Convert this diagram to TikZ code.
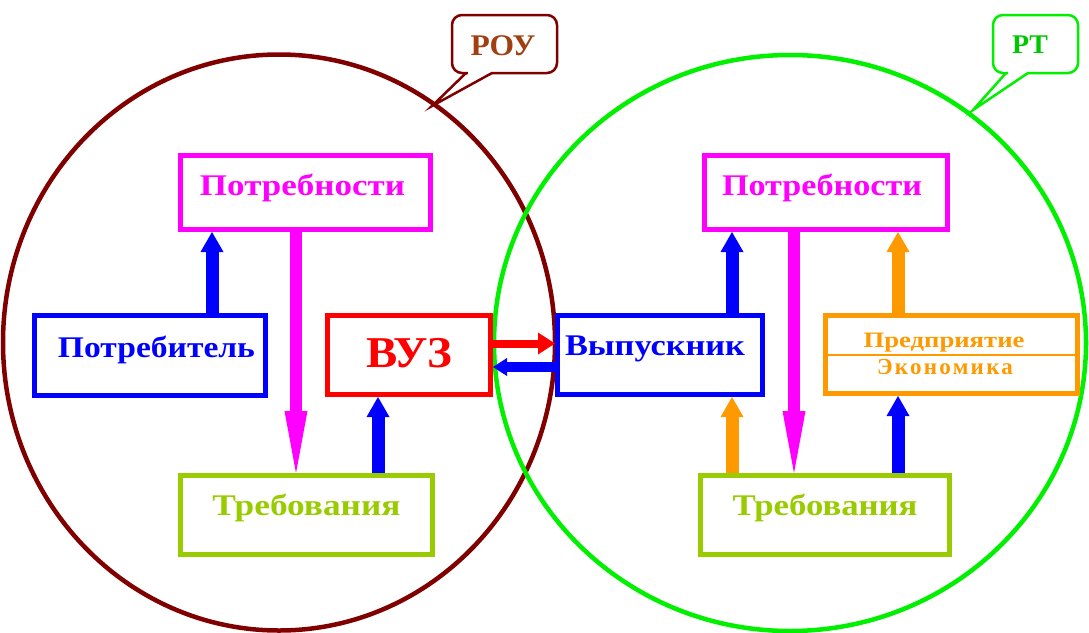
\documentclass[tikz,border=0pt]{standalone}
\usepackage{fontspec}
\setmainfont{Liberation Serif}
\usepackage{graphicx}
\usetikzlibrary{arrows.meta,calc}
\definecolor{maroonc}{RGB}{128,0,0}
\definecolor{limec}{RGB}{0,240,0}
\definecolor{magc}{RGB}{255,0,255}
\definecolor{bluec}{RGB}{0,0,255}
\definecolor{redc}{RGB}{255,0,0}
\definecolor{ygc}{RGB}{153,204,0}
\definecolor{orc}{RGB}{255,153,0}
\definecolor{routc}{RGB}{160,64,16}
\definecolor{rttc}{RGB}{0,200,0}
\newcommand{\fitt}[3]{\resizebox{#1}{\height}{\fontsize{#2}{#2}\selectfont\bfseries #3}}
\begin{document}
\begin{tikzpicture}[x=1pt,y=-1pt,
  box/.style={draw=#1, text=#1, line width=5pt, fill=white, inner sep=0pt},
  uparr/.style={#1, line width=13pt, -{Triangle[length=20pt,width=23pt,line width=0pt]}},
  downarr/.style={#1, line width=12pt, -{Triangle[length=62pt,width=23pt,line width=0pt]}},
  co/.style={draw=#1, line width=2.5pt},
]
\useasboundingbox[fill=white] (0,0) rectangle (1089,632);

% circles
\draw[maroonc, line width=4.5pt] (279,342.5) ellipse [x radius=276pt, y radius=288pt];
\draw[limec, line width=4.5pt] (790,343) ellipse [x radius=296pt, y radius=288pt];

% callouts
\draw[co=maroonc, fill=white, rounded corners=10pt] (452,15) rectangle (557,73);
\fill[white] (467.5,71) rectangle (490.5,75.5);
\draw[co=maroonc, line join=miter] (466,73) -- (432,106) -- (492,73);
\node[text=routc, anchor=base] (rou) at (503,55) {\fitt{65pt}{30}{РОУ}};

\draw[co=limec, fill=white, rounded corners=10pt] (993,15) rectangle (1078,73);
\fill[white] (1007.5,71) rectangle (1026.5,75.5);
\draw[co=limec, line join=miter] (1006,73) -- (973,110) -- (1028,73);
\node[text=rttc, anchor=base] (rt) at (1030,53) {\fitt{36pt}{27}{РТ}};

% left boxes
\node[box=magc, minimum width=250pt, minimum height=74pt, text height=25pt, text depth=20pt] (needL) at (305.5,192.5) {\fitt{205pt}{30}{Потребности}\kern6pt};
\node[box=bluec, minimum width=231pt, minimum height=80pt, text height=23pt, text depth=20pt] (cons) at (150,355.5) {\kern13pt\fitt{197pt}{30}{Потребитель}};
\node[box=redc, minimum width=163pt, minimum height=79pt, text height=44pt, text depth=20pt] (vuz) at (409,355) {\fitt{86pt}{44}{ВУЗ}};
\node[box=ygc, minimum width=252pt, minimum height=79pt, text height=20pt, text depth=20pt] (reqL) at (306.5,515) {\fitt{188pt}{30}{Требования}};

% right boxes
\node[box=magc, minimum width=243pt, minimum height=74pt, text height=25pt, text depth=20pt] (needR) at (826,192.5) {\fitt{200pt}{30}{Потребности}\kern8pt};
\node[box=bluec, minimum width=205pt, minimum height=79pt, text height=20pt, text depth=20pt] (grad) at (660,355) {\fitt{180pt}{30}{Выпускник}\kern10pt};
\node[box=orc, minimum width=252pt, minimum height=78pt] (ent) at (951.5,354.5) {};
\draw[orc, line width=2pt] (ent.west) -- (ent.east);
\node[anchor=base, text=orc] (entA) at ($(ent.center)+(-7.5,-7.5)$) {\fitt{161pt}{22}{Предприятие}};
\node[anchor=base, text=orc] (entB) at ($(ent.center)+(-6.5,19.5)$) {\fitt{136pt}{23}{\addfontfeature{LetterSpace=10}Экономика}};
\node[box=ygc, minimum width=249pt, minimum height=79pt, text height=20pt, text depth=20pt] (reqR) at (825,515) {\fitt{185pt}{30}{Требования}};

% left arrows
\draw[uparr=bluec] ($(cons.north)+(62,0)$) -- ($(cons.north |- needL.south)+(62,0)$);
\draw[downarr=magc] ($(needL.south)+(-9.5,0)$) -- ($(needL.south |- reqL.north)+(-9.5,0)$);
\draw[uparr=bluec] ($(reqL.north)+(71.5,0)$) -- ($(reqL.north |- vuz.south)+(71.5,0)$);

% middle arrows
\draw[redc, line width=8pt, -{Triangle[length=17pt,width=22pt,line width=0pt]}] ($(vuz.east)+(0,-11.5)$) -- ($(vuz.east -| grad.west)+(0,-11.5)$);
\draw[bluec, line width=10pt, -{Triangle[length=14pt,width=18pt,line width=0pt]}] ($(grad.west)+(0,12)$) -- ($(grad.west -| vuz.east)+(0,12)$);

% right arrows
\draw[uparr=bluec] ($(grad.north)+(72,0)$) -- ($(grad.north |- needR.south)+(72,0)$);
\draw[downarr=magc] ($(needR.south)+(-32,0)$) -- ($(needR.south |- reqR.north)+(-32,0)$);
\draw[uparr=orc] ($(reqR.north)+(-93,0)$) -- ($(reqR.north |- grad.south)+(-93,0)$);
\draw[uparr=orc] ($(ent.north)+(-53.5,0)$) -- ($(ent.north |- needR.south)+(-53.5,0)$);
\draw[uparr=bluec] ($(reqR.north)+(73,0)$) -- ($(reqR.north |- ent.south)+(73,0)$);
\end{tikzpicture}
\end{document}
